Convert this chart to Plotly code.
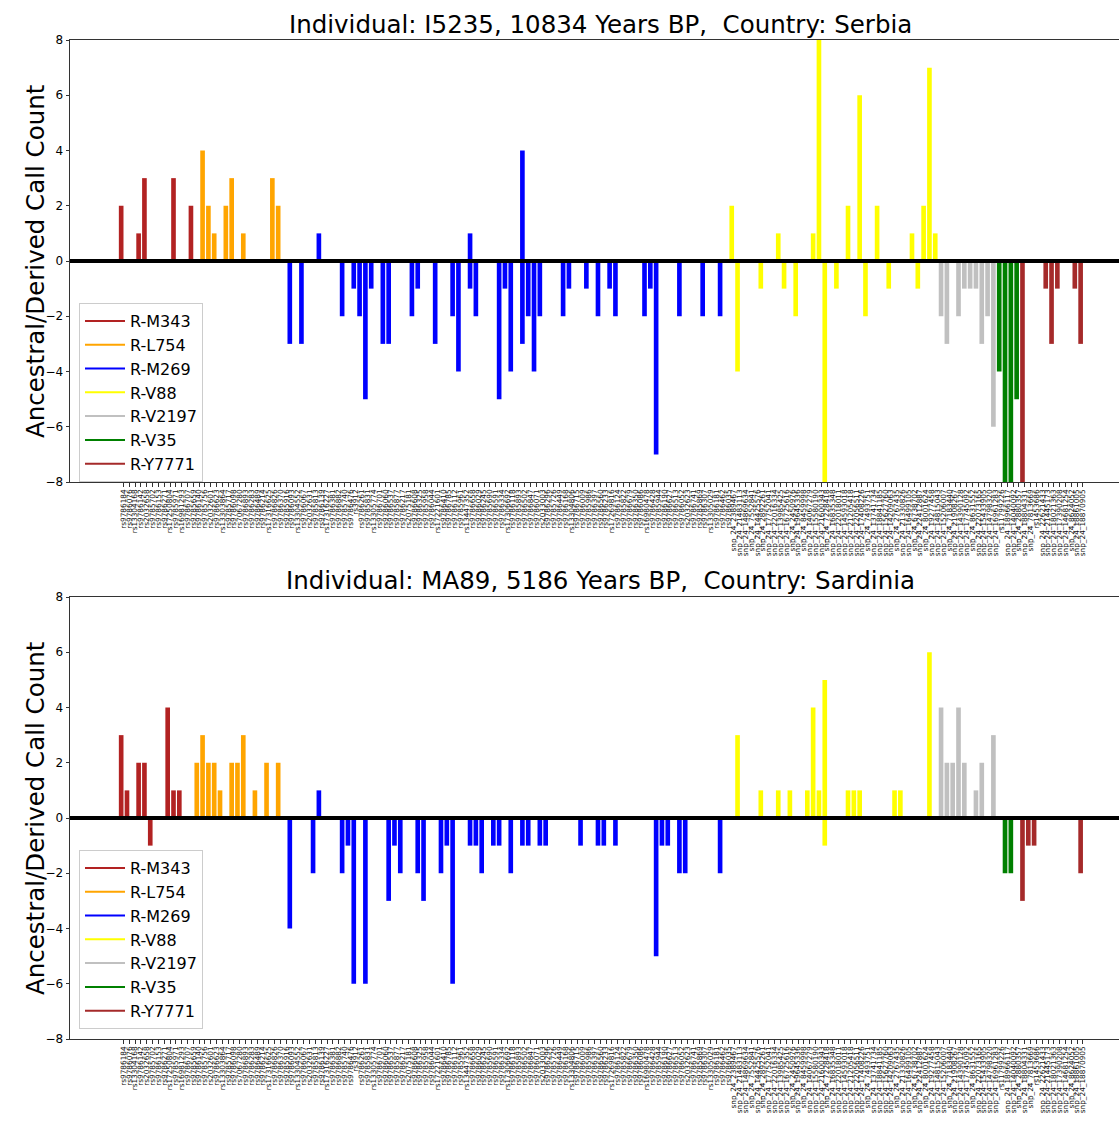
import plotly.graph_objects as go

# ---------------- data ----------------
group_names = ["R-M343", "R-L754", "R-M269", "R-V88", "R-V2197", "R-V35", "R-Y7771"]
group_colors = ["firebrick", "orange", "blue", "yellow", "silver", "green", "brown"]
group_sizes = [13, 15, 77, 36, 10, 4, 11]

labels_m343 = ["rs9786184", "rs9786076", "rs13304168", "rs9786142", "rs2032658", "rs9785702",
               "rs9786153", "rs9786271", "rs17250804", "rs9785971", "rs16981293", "rs9786707",
               "rs9785659"]
labels_l754 = ["rs9786140", "rs9785756", "rs2032601", "rs9786623", "rs13303864", "rs9785717",
               "rs9786098", "rs7067280", "rs9786893", "rs9786283", "rs9786489", "rs9786214",
               "rs17316625", "rs9786826", "rs9786370"]
labels_m269 = ["rs9785916", "rs9786093", "rs13304552", "rs9786067", "rs2032631", "rs9785813",
               "rs9786139", "rs17316227", "rs9786381", "rs9786882", "rs9785740", "rs9786476",
               "rs3912", "rs9786261", "rs9785831", "rs13305774", "rs9786701", "rs9786060",
               "rs9786537", "rs9785877", "rs9786217", "rs2075181", "rs9786608", "rs9786325",
               "rs9785958", "rs9786044", "rs17221601", "rs9786410", "rs9786785", "rs9786112",
               "rs9785961", "rs13447352", "rs9786658", "rs9786029", "rs9786245", "rs9785690",
               "rs9786591", "rs9786334", "rs17306692", "rs9786118", "rs9785893", "rs9786502",
               "rs9786847", "rs9786071", "rs2033003", "rs9786296", "rs9785726", "rs9786449",
               "rs9786168", "rs13304806", "rs9786715", "rs9786009", "rs9785986", "rs9786397",
               "rs9786560", "rs9786233", "rs17269816", "rs9786124", "rs9785822", "rs9786679",
               "rs9786350", "rs9786086", "rs16980478", "rs9786428", "rs9785944", "rs9786190",
               "rs9786627", "rs9786513", "rs9786052", "rs2032623", "rs9786741", "rs9785869",
               "rs9786307", "rs13305029", "rs9786181", "rs9786462", "rs9786035"]
labels_v88 = ["snp_24_2389467", "snp_24_21483113", "snp_24_14869634", "snp_24_7552841",
              "snp_24_14425576", "snp_24_2892261", "snp_24_17752041", "snp_24_22016334",
              "snp_24_13985425", "snp_24_16725616", "snp_24_2450976", "snp_24_19645336",
              "snp_24_8459998", "snp_24_14067279", "snp_24_15580190", "snp_24_21600343",
              "snp_24_7228418", "snp_24_16835348", "snp_24_22018011", "snp_24_14593018",
              "snp_24_21205418", "snp_24_22056511", "snp_24_17408226", "snp_24_7493751",
              "snp_24_13741734", "snp_24_18841185", "snp_24_15627760", "snp_24_14209063",
              "snp_24_2767435", "snp_24_21330826", "snp_24_16499105", "snp_24_6738702",
              "snp_24_22412887", "snp_24_8001624", "snp_24_19277458", "snp_24_14815043"]
labels_v2197 = ["snp_24_15206007", "snp_24_7183440", "snp_24_21908267", "snp_24_14390128",
                "snp_24_17745092", "snp_24_8631552", "snp_24_22073165", "snp_24_15433905",
                "snp_24_14798320", "snp_24_16961283"]
labels_v35 = ["rs11799226", "snp_24_18966117", "snp_24_14040092", "snp_24_2880357"]
labels_y7771 = ["snp_24_18804331", "snp_24_7813669", "rs1453686", "snp_24_22621433",
                "snp_24_21445173", "snp_24_18021363", "snp_24_17390208", "snp_24_14681254",
                "snp_24_8624052", "snp_24_18861005", "snp_24_18870905"]

snp_labels = (labels_m343 + labels_l754 + labels_m269 + labels_v88 +
              labels_v2197 + labels_v35 + labels_y7771)

# Individual I5235 (Serbia): derived (up) and ancestral (down) call counts per SNP
serbia_derived = [
    2, 0, 0, 1, 3, 0, 0, 0, 0, 3,
    0, 0, 2, 0, 4, 2, 1, 0, 2, 3,
    0, 1, 0, 0, 0, 0, 3, 2, 0, 0,
    0, 0, 0, 0, 1, 0, 0, 0, 0, 0,
    0, 0, 0, 0, 0, 0, 0, 0, 0, 0,
    0, 0, 0, 0, 0, 0, 0, 0, 0, 0,
    1, 0, 0, 0, 0, 0, 0, 0, 0, 4,
    0, 0, 0, 0, 0, 0, 0, 0, 0, 0,
    0, 0, 0, 0, 0, 0, 0, 0, 0, 0,
    0, 0, 0, 0, 0, 0, 0, 0, 0, 0,
    0, 0, 0, 0, 0, 2, 0, 0, 0, 0,
    0, 0, 0, 1, 0, 0, 0, 0, 0, 1,
    8, 0, 0, 0, 0, 2, 0, 6, 0, 0,
    2, 0, 0, 0, 0, 0, 1, 0, 2, 7,
    1, 0, 0, 0, 0, 0, 0, 0, 0, 0,
    0, 0, 0, 0, 0, 0, 0, 0, 0, 0,
    0, 0, 0, 0, 0, 0]
serbia_ancestral = [
    0, 0, 0, 0, 0, 0, 0, 0, 0, 0,
    0, 0, 0, 0, 0, 0, 0, 0, 0, 0,
    0, 0, 0, 0, 0, 0, 0, 0, 0, 3,
    0, 3, 0, 0, 0, 0, 0, 0, 2, 0,
    1, 2, 5, 1, 0, 3, 3, 0, 0, 0,
    2, 1, 0, 0, 3, 0, 0, 2, 4, 0,
    1, 2, 0, 0, 0, 5, 1, 4, 0, 3,
    2, 4, 2, 0, 0, 0, 2, 1, 0, 0,
    1, 0, 2, 0, 1, 2, 0, 0, 0, 0,
    2, 1, 7, 0, 0, 0, 2, 0, 0, 0,
    2, 0, 0, 2, 0, 0, 4, 0, 0, 0,
    1, 0, 0, 0, 1, 0, 2, 0, 0, 0,
    0, 8, 0, 1, 0, 0, 0, 0, 2, 0,
    0, 0, 1, 0, 0, 0, 0, 1, 0, 0,
    0, 2, 3, 0, 2, 1, 1, 1, 3, 2,
    6, 4, 8, 8, 5, 8, 0, 0, 0, 1,
    3, 1, 0, 0, 1, 3]

# Individual MA89 (Sardinia)
sardinia_derived = [
    3, 1, 0, 2, 2, 0, 0, 0, 4, 1,
    1, 0, 0, 2, 3, 2, 2, 1, 0, 2,
    2, 3, 0, 1, 0, 2, 0, 2, 0, 0,
    0, 0, 0, 0, 1, 0, 0, 0, 0, 0,
    0, 0, 0, 0, 0, 0, 0, 0, 0, 0,
    0, 0, 0, 0, 0, 0, 0, 0, 0, 0,
    0, 0, 0, 0, 0, 0, 0, 0, 0, 0,
    0, 0, 0, 0, 0, 0, 0, 0, 0, 0,
    0, 0, 0, 0, 0, 0, 0, 0, 0, 0,
    0, 0, 0, 0, 0, 0, 0, 0, 0, 0,
    0, 0, 0, 0, 0, 0, 3, 0, 0, 0,
    1, 0, 0, 1, 0, 1, 0, 0, 1, 4,
    1, 5, 0, 0, 0, 1, 1, 1, 0, 0,
    0, 0, 0, 1, 1, 0, 0, 0, 0, 6,
    0, 4, 2, 2, 4, 2, 0, 1, 2, 0,
    3, 0, 0, 0, 0, 0, 0, 0, 0, 0,
    0, 0, 0, 0, 0, 0]
sardinia_ancestral = [
    0, 0, 0, 0, 0, 1, 0, 0, 0, 0,
    0, 0, 0, 0, 0, 0, 0, 0, 0, 0,
    0, 0, 0, 0, 0, 0, 0, 0, 0, 4,
    0, 0, 0, 2, 0, 0, 0, 0, 2, 1,
    6, 0, 6, 0, 0, 0, 3, 1, 2, 0,
    0, 2, 3, 0, 0, 2, 1, 6, 0, 0,
    1, 1, 2, 0, 1, 1, 0, 2, 0, 1,
    1, 0, 1, 1, 0, 0, 0, 0, 0, 1,
    0, 0, 1, 1, 0, 1, 0, 0, 0, 0,
    0, 0, 5, 1, 1, 0, 2, 2, 0, 0,
    0, 0, 0, 2, 0, 0, 0, 0, 0, 0,
    0, 0, 0, 0, 0, 0, 0, 0, 0, 0,
    0, 1, 0, 0, 0, 0, 0, 0, 0, 0,
    0, 0, 0, 0, 0, 0, 0, 0, 0, 0,
    0, 0, 0, 0, 0, 0, 0, 0, 0, 0,
    0, 0, 2, 2, 0, 3, 1, 1, 0, 0,
    0, 0, 0, 0, 0, 2]

titles = ["Individual: I5235, 10834 Years BP,\u00a0 Country: Serbia",
          "Individual: MA89, 5186 Years BP,\u00a0 Country: Sardinia"]
y_title = "Ancestral/Derived Call Count"
y_ticks = [-8, -6, -4, -2, 0, 2, 4, 6, 8]

# ---------------- figure ----------------
W, H = 1119, 1123
L = 70
FONT = "DejaVu Sans"
AX = "#333333"

n = len(snp_labels)
xs = list(range(n))
bar_colors = []
for c, k in zip(group_colors, group_sizes):
    bar_colors += [c] * k

def px_to_paper_x(px):
    return (px - L) / (W - L)

def px_to_paper_y(py):
    return 1 - py / H

panels = [
    dict(title=titles[0], der=serbia_derived, anc=serbia_ancestral, xa="x", ya="y",
         leg="legend", top=40, bottom=482, title_y=24, legend_top=303),
    dict(title=titles[1], der=sardinia_derived, anc=sardinia_ancestral, xa="x2", ya="y2",
         leg="legend2", top=597, bottom=1039, title_y=580, legend_top=850),
]

fig = go.Figure()
layout = dict(
    width=W, height=H, margin=dict(l=L, r=0, t=0, b=0),
    plot_bgcolor="white", paper_bgcolor="white",
    font=dict(family=FONT, color="black"),
    barmode="overlay", showlegend=True,
    shapes=[], annotations=[],
)

for i, p in enumerate(panels):
    fig.add_trace(go.Bar(x=xs, y=p["der"], width=0.8, offset=-0.8,
                         marker=dict(color=bar_colors, line=dict(width=0)),
                         xaxis=p["xa"], yaxis=p["ya"], showlegend=False, hoverinfo="skip"))
    fig.add_trace(go.Bar(x=xs, y=[-v for v in p["anc"]], width=0.8, offset=-0.8,
                         marker=dict(color=bar_colors, line=dict(width=0)),
                         xaxis=p["xa"], yaxis=p["ya"], showlegend=False, hoverinfo="skip"))
    for name, col in zip(group_names, group_colors):
        fig.add_trace(go.Scatter(x=[None], y=[None], mode="lines", name=name,
                                 line=dict(color=col, width=2),
                                 xaxis=p["xa"], yaxis=p["ya"], legend=p["leg"]))

    suffix = "" if i == 0 else "2"
    ydom = [px_to_paper_y(p["bottom"]), px_to_paper_y(p["top"])]
    layout["xaxis" + suffix] = dict(
        domain=[0, 1], range=[-9.2, 171.2], anchor="y" + suffix,
        tickmode="array", tickvals=xs, ticktext=snp_labels, tickangle=-90,
        tickfont=dict(size=7.3, color="#111111", family=FONT),
        ticks="outside", ticklen=3.5, tickwidth=1, tickcolor=AX,
        showline=True, linecolor=AX, linewidth=1, mirror=True,
        showgrid=False, zeroline=False, automargin=False, fixedrange=True,
    )
    layout["yaxis" + suffix] = dict(
        domain=ydom, range=[-8, 8], anchor="x" + suffix,
        tickmode="array", tickvals=y_ticks,
        tickfont=dict(size=12, color="black", family=FONT),
        ticks="outside", ticklen=3.5, tickwidth=1, tickcolor=AX,
        showline=True, linecolor=AX, linewidth=1,
        showgrid=False, zeroline=False, automargin=False, fixedrange=True,
    )
    layout["shapes"].append(dict(type="line", xref="x" + suffix + " domain", x0=0, x1=1,
                                 yref="y" + suffix, y0=0, y1=0,
                                 line=dict(color="black", width=4), layer="above"))
    layout["annotations"].append(dict(text=p["title"], xref="paper", yref="paper",
                                      x=px_to_paper_x(600), y=px_to_paper_y(p["title_y"]),
                                      xanchor="center", yanchor="middle", showarrow=False,
                                      font=dict(size=24.5, family=FONT, color="black")))
    layout["annotations"].append(dict(text=y_title, xref="paper", yref="paper",
                                      x=px_to_paper_x(35),
                                      y=px_to_paper_y((p["top"] + p["bottom"]) / 2),
                                      xanchor="center", yanchor="middle", textangle=-90,
                                      showarrow=False,
                                      font=dict(size=24.5, family=FONT, color="black")))
    layout[p["leg"]] = dict(
        x=px_to_paper_x(79), y=px_to_paper_y(p["legend_top"]), xanchor="left", yanchor="top",
        bgcolor="rgba(255,255,255,0.8)", bordercolor="#cccccc", borderwidth=1,
        font=dict(size=16, family=FONT, color="black"), tracegroupgap=0, itemwidth=40,
    )

fig.update_layout(**layout)
fig.write_html("out.html", config={"displayModeBar": False})
